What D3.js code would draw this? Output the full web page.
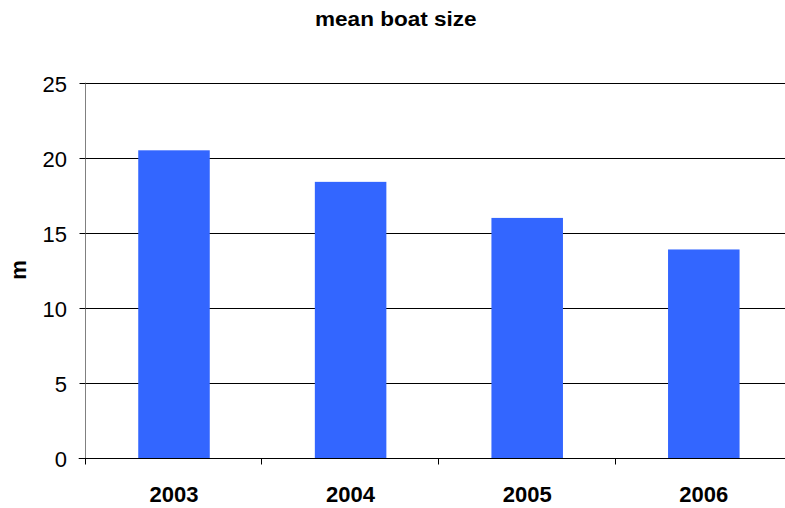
<!DOCTYPE html>
<html>
<head>
<meta charset="utf-8">
<script src="https://cdn.jsdelivr.net/npm/d3@7/dist/d3.min.js"></script>
<style>
  html, body { margin: 0; padding: 0; background: #fff; }
  svg { display: block; }
  text { font-family: Arial, "Liberation Sans", sans-serif; fill: #000; }
</style>
</head>
<body>
<script>
// Mean boat size by year, in metres
const years = ["2003", "2004", "2005", "2006"];
const meanSize = [20.5, 18.4, 16.0, 13.9];
const yTicks = [0, 5, 10, 15, 20, 25];

const W = 785, H = 508;
const x0 = 85.7, x1 = 792.1, y0 = 458.3, y1 = 82.7;

const svg = d3.select("body").append("svg")
  .attr("width", W).attr("height", H);

const x = d3.scaleBand().domain(years).range([x0, x1]).padding(0);
const y = d3.scaleLinear().domain([0, 25]).range([y0, y1]);

// horizontal gridlines
svg.append("g").selectAll("line")
  .data(yTicks.filter(t => t > 0))
  .join("line")
  .attr("x1", x0).attr("x2", W)
  .attr("y1", d => Math.round(y(d)) + 0.5).attr("y2", d => Math.round(y(d)) + 0.5)
  .attr("stroke", "#000").attr("stroke-width", 1);

// bars
const barW = x.bandwidth() * 0.405;
svg.append("g").selectAll("rect")
  .data(years.map((yr, i) => ({ yr, v: meanSize[i] })))
  .join("rect")
  .attr("x", d => x(d.yr) + (x.bandwidth() - barW) / 2)
  .attr("width", barW)
  .attr("y", d => y(d.v))
  .attr("height", d => y(0) - y(d.v))
  .attr("fill", "#3366FF");

// y axis
const yAxis = d3.axisLeft(y).tickValues(yTicks).tickSize(6).tickPadding(12.5);
const gy = svg.append("g")
  .attr("transform", `translate(${Math.round(x0) - 0.5},0)`)
  .call(yAxis);
gy.select(".domain").attr("stroke", "#808080").attr("d", `M0,${y1}V${y0}`);
gy.selectAll(".tick line").attr("stroke", "#000");
gy.selectAll(".tick text")
  .attr("font-size", 22).attr("font-family", "Arial, 'Liberation Sans', sans-serif")
  .attr("fill", "#000").attr("dy", "0.38em");
gy.selectAll(".tick").attr("transform", d => `translate(0,${Math.round(y(d)) + 0.5})`);

// x axis baseline and category ticks
const gx = svg.append("g").attr("transform", `translate(0,${Math.round(y0) + 0.5})`);
gx.append("line").attr("x1", x0 - 7).attr("x2", W).attr("stroke", "#000");
gx.selectAll("line.tk")
  .data(years.map(d => x(d)).concat([x1]))
  .join("line").attr("class", "tk")
  .attr("x1", d => Math.round(d) - 0.5).attr("x2", d => Math.round(d) - 0.5)
  .attr("y1", 0).attr("y2", 6).attr("stroke", "#000");
gx.selectAll("text")
  .data(years)
  .join("text")
  .attr("x", d => x(d) + x.bandwidth() / 2)
  .attr("y", 43.4)
  .attr("text-anchor", "middle")
  .attr("font-size", 22).attr("font-weight", "bold")
  .text(d => d);

// y axis title
svg.append("text")
  .attr("transform", "translate(26,270) rotate(-90)")
  .attr("text-anchor", "middle")
  .attr("font-size", 22).attr("font-weight", "bold")
  .text("m");

// chart title
svg.append("text")
  .attr("transform", "translate(395.8,25.7) scale(1.1,1)")
  .attr("text-anchor", "middle")
  .attr("font-size", 20.5).attr("font-weight", "bold")
  .text("mean boat size");
</script>
</body>
</html>
